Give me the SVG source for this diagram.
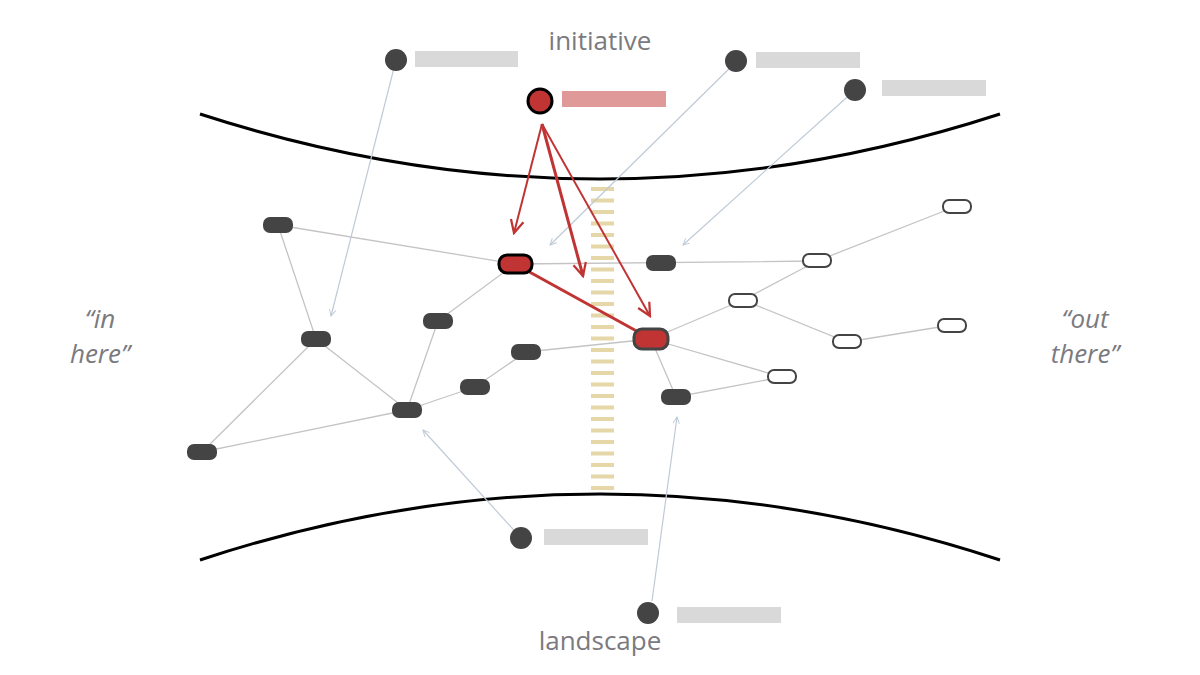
<svg xmlns="http://www.w3.org/2000/svg" width="1200" height="675" viewBox="0 0 1200 675">
<style>
.t{font-family:"Open Sans","Liberation Sans",sans-serif;fill:#7a7a7f;font-size:26px;text-anchor:middle}
.i{font-style:italic}
.e{stroke:#c4c4c4;stroke-width:1.3;fill:none}
.p{stroke:#bfcad6;stroke-width:1.2;fill:none}
.r{stroke:#c03434;fill:none}
.d{fill:#444}
.w{fill:#fff;stroke:#444;stroke-width:2}
.lb{fill:#d9d9d9}
</style>
<defs>
<marker id="ap" viewBox="0 0 10 10" refX="9" refY="5" markerWidth="8" markerHeight="8" orient="auto" markerUnits="userSpaceOnUse"><path d="M1,1 L9,5 L1,9" fill="none" stroke="#bfcad6" stroke-width="1.2"/></marker>
<marker id="ar" viewBox="0 0 10 10" refX="9" refY="5" markerWidth="16" markerHeight="16" orient="auto" markerUnits="userSpaceOnUse"><path d="M1,1 L9,5 L1,9" fill="none" stroke="#c03434" stroke-width="1.4"/></marker>
</defs>
<path d="M200,114 Q600,244 1000,114" stroke="#000" stroke-width="3" fill="none"/>
<path d="M200,560 Q600,428 1000,560" stroke="#000" stroke-width="3" fill="none"/>
<line x1="602.5" y1="187" x2="602.5" y2="490" stroke="#e6d7a8" stroke-width="23" stroke-dasharray="4 7.5"/>
<text class="t" x="600" y="50">initiative</text>
<text class="t" x="600" y="650">landscape</text>
<text class="t i" x="100" y="328">“in</text>
<text class="t i" x="100" y="363">here”</text>
<text class="t i" x="1085" y="328">“out</text>
<text class="t i" x="1085" y="363">there”</text>
<g id="connectors">
<path class="e" d="M278,225L316,339M278,225L515,264M316,339L202,452M316,339L407,410M202,452L407,410M407,410L438,321M438,321L515,264M407,410L475,387M475,387L526,352M526,352L651,339M515,264L817,261L957,206M651,339L743,300L817,261M743,300L847,342L952,325M651,339L782,377M651,339L676,397L782,377"/>
<path class="p" marker-end="url(#ap)" d="M396,60L331,316"/>
<path class="p" marker-end="url(#ap)" d="M736,62L550,245"/>
<path class="p" marker-end="url(#ap)" d="M855,90L683,245"/>
<path class="p" marker-end="url(#ap)" d="M521,538L423,430"/>
<path class="p" marker-end="url(#ap)" d="M652,601L677,417"/>
<path class="r" stroke-width="3" d="M515,264L651,339"/>
<path class="r" stroke-width="2" marker-end="url(#ar)" d="M542,124L514,233"/>
<path class="r" stroke-width="3" marker-end="url(#ar)" d="M542,124L583,276"/>
<path class="r" stroke-width="2" marker-end="url(#ar)" d="M542,124L650,316"/>
</g>
<g id="src1"><circle class="d" cx="396" cy="60" r="11"/><rect class="lb" x="415" y="51" width="103" height="16"/></g>
<g id="src2"><circle class="d" cx="736" cy="61" r="11"/><rect class="lb" x="756" y="52" width="104" height="16"/></g>
<g id="src3"><circle class="d" cx="855" cy="90" r="11"/><rect class="lb" x="882" y="80" width="104" height="16"/></g>
<g id="src4"><circle class="d" cx="521" cy="538" r="11"/><rect class="lb" x="544" y="529" width="104" height="16"/></g>
<g id="src5"><circle class="d" cx="648" cy="613" r="11"/><rect class="lb" x="677" y="607" width="104" height="16"/></g>
<g id="init"><circle cx="540" cy="101" r="12" fill="#c03434" stroke="#000" stroke-width="3"/><rect x="562" y="91" width="104" height="16" fill="#e09999"/></g>
<g id="n1"><rect class="d" x="263" y="217" width="30" height="16" rx="7"/></g>
<g id="n2"><rect class="d" x="301" y="331" width="30" height="16" rx="7"/></g>
<g id="n3"><rect class="d" x="187" y="444" width="30" height="16" rx="7"/></g>
<g id="n4"><rect class="d" x="392" y="402" width="30" height="16" rx="7"/></g>
<g id="n5"><rect class="d" x="423" y="313" width="30" height="16" rx="7"/></g>
<g id="n6"><rect class="d" x="460" y="379" width="30" height="16" rx="7"/></g>
<g id="n7"><rect class="d" x="511" y="344" width="30" height="16" rx="7"/></g>
<g id="n8"><rect class="d" x="646" y="255" width="30" height="16" rx="7"/></g>
<g id="n9"><rect class="d" x="661" y="389" width="30" height="16" rx="7"/></g>
<g id="r1"><rect x="499" y="255" width="33" height="18" rx="8" fill="#c03434" stroke="#000" stroke-width="3"/></g>
<g id="r2"><rect x="634" y="329" width="34" height="20" rx="8" fill="#c03434" stroke="#444" stroke-width="3"/></g>
<g id="w1"><rect class="w" x="943" y="200" width="28" height="13" rx="6"/></g>
<g id="w2"><rect class="w" x="803" y="254" width="28" height="13" rx="6"/></g>
<g id="w3"><rect class="w" x="729" y="294" width="28" height="13" rx="6"/></g>
<g id="w4"><rect class="w" x="833" y="335" width="28" height="13" rx="6"/></g>
<g id="w5"><rect class="w" x="938" y="319" width="28" height="13" rx="6"/></g>
<g id="w6"><rect class="w" x="768" y="370" width="28" height="13" rx="6"/></g>
</svg>
